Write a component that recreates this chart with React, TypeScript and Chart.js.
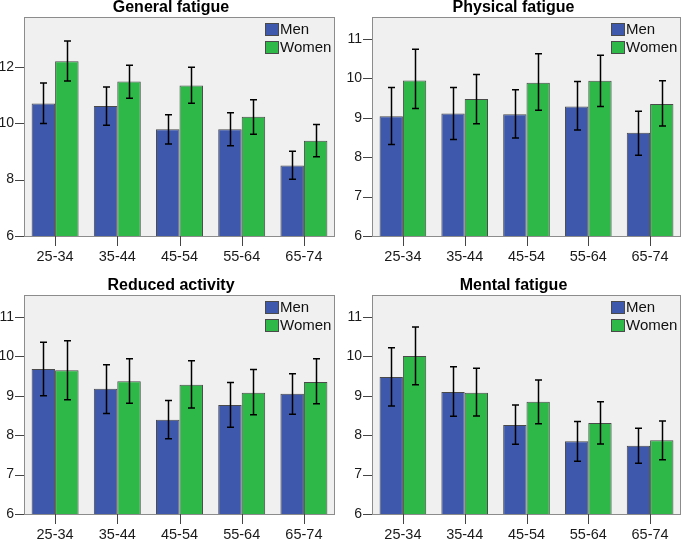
import React, { useEffect, useRef } from "react";
import { Chart, registerables } from "chart.js";

Chart.register(...registerables);

const ageGroups = ["25-34", "35-44", "45-54", "55-64", "65-74"];
const seriesNames = ["Men", "Women"];
const seriesColors = ["#3e58ac", "#2eb848"];

const generalTicks = [6, 8, 10, 12];
const scoreTicks = [6, 7, 8, 9, 10, 11];
const generalMax = 13.77;
const scoreMax = 11.56;
const axisMin = 6;

// General fatigue
const generalMen = [10.7, 10.61, 9.79, 9.79, 8.5];
const generalMenLow = [9.99, 9.93, 9.26, 9.2, 8.01];
const generalMenHigh = [11.43, 11.29, 10.3, 10.37, 9.01];
const generalWomen = [12.2, 11.48, 11.34, 10.23, 9.38];
const generalWomenLow = [11.5, 10.89, 10.71, 9.61, 8.81];
const generalWomenHigh = [12.92, 12.06, 11.99, 10.83, 9.96];

// Physical fatigue
const physicalMen = [9.04, 9.11, 9.09, 9.29, 8.62];
const physicalMenLow = [8.32, 8.45, 8.49, 8.69, 8.05];
const physicalMenHigh = [9.77, 9.77, 9.71, 9.92, 9.17];
const physicalWomen = [9.95, 9.48, 9.89, 9.94, 9.35];
const physicalWomenLow = [9.24, 8.85, 9.19, 9.29, 8.79];
const physicalWomenHigh = [10.74, 10.1, 10.63, 10.59, 9.94];

// Reduced activity
const reducedMen = [9.68, 9.18, 8.39, 8.77, 9.05];
const reducedMenLow = [9.0, 8.55, 7.91, 8.2, 8.53];
const reducedMenHigh = [10.36, 9.79, 8.88, 9.34, 9.56];
const reducedWomen = [9.65, 9.37, 9.28, 9.08, 9.35];
const reducedWomenLow = [8.9, 8.81, 8.69, 8.52, 8.8];
const reducedWomenHigh = [10.4, 9.94, 9.89, 9.67, 9.94];

// Mental fatigue
const mentalMen = [9.48, 9.1, 8.26, 7.85, 7.73];
const mentalMenLow = [8.74, 8.48, 7.77, 7.34, 7.29];
const mentalMenHigh = [10.22, 9.74, 8.77, 8.35, 8.18];
const mentalWomen = [10.01, 9.08, 8.85, 8.31, 7.87];
const mentalWomenLow = [9.28, 8.49, 8.29, 7.78, 7.38];
const mentalWomenHigh = [10.75, 9.7, 9.4, 8.85, 8.36];

const FONT = "'Liberation Sans', Arial, Helvetica, sans-serif";

type PanelProps = {
  title: string;
  men: number[];
  menLow: number[];
  menHigh: number[];
  women: number[];
  womenLow: number[];
  womenHigh: number[];
  ticks: number[];
  yMax: number;
  left: number;
  top: number;
  width: number;
  height: number;
  areaLeft: number;
  areaTop: number;
  areaBottom: number;
  areaRightPad: number;
};

function Panel(p: PanelProps) {
  const ref = useRef<HTMLCanvasElement | null>(null);
  useEffect(() => {
    if (!ref.current) return;
    const lows = [p.menLow, p.womenLow];
    const highs = [p.menHigh, p.womenHigh];

    const decor = {
      id: "decor" + p.title.replace(/\s/g, ""),
      beforeDraw(chart: any) {
        const { ctx, chartArea: a } = chart;
        ctx.save();
        ctx.fillStyle = "#f0f0f0";
        ctx.fillRect(a.left, a.top, a.right - a.left, a.bottom - a.top);
        ctx.restore();
      },
      beforeDatasetsDraw(chart: any) {
        const { ctx, chartArea: a } = chart;
        const ys = chart.scales.y;
        const xs = chart.scales.x;
        ctx.save();
        ctx.strokeStyle = "#8c8c8c";
        ctx.lineWidth = 1;
        ctx.strokeRect(a.left + 0.5, a.top + 0.5, a.right - a.left - 1, a.bottom - a.top);
        // y tick marks
        ctx.strokeStyle = "#444";
        ctx.beginPath();
        p.ticks.forEach((v) => {
          const y = Math.round(ys.getPixelForValue(v)) + 0.5;
          ctx.moveTo(a.left - 9, y);
          ctx.lineTo(a.left, y);
        });
        // x tick marks at category centres
        ageGroups.forEach((_, i) => {
          const x = Math.round(xs.getPixelForTick(i)) + 0.5;
          ctx.moveTo(x, a.bottom);
          ctx.lineTo(x, a.bottom + 10);
        });
        ctx.stroke();
        ctx.restore();
      },
      afterDatasetsDraw(chart: any) {
        const { ctx, chartArea: a } = chart;
        const ys = chart.scales.y;
        ctx.save();
        ctx.strokeStyle = "#000";
        ctx.lineWidth = 1.5;
        for (let d = 0; d < 2; d++) {
          const meta = chart.getDatasetMeta(d);
          meta.data.forEach((el: any, i: number) => {
            const x = Math.round(el.x) + 0.5;
            const yHi = ys.getPixelForValue(highs[d][i]);
            const yLo = ys.getPixelForValue(lows[d][i]);
            ctx.beginPath();
            ctx.moveTo(x, yHi);
            ctx.lineTo(x, yLo);
            ctx.moveTo(x - 3.5, yHi);
            ctx.lineTo(x + 3.5, yHi);
            ctx.moveTo(x - 3.5, yLo);
            ctx.lineTo(x + 3.5, yLo);
            ctx.stroke();
          });
        }
        // title
        ctx.fillStyle = "#000";
        ctx.font = `bold 16px ${FONT}`;
        ctx.textAlign = "center";
        ctx.textBaseline = "alphabetic";
        ctx.fillText(p.title, chart.width / 2, a.top - 5);
        // legend
        const lx = a.right - 70;
        const ly = a.top + 6;
        ctx.font = `15px ${FONT}`;
        ctx.textAlign = "left";
        ctx.textBaseline = "middle";
        for (let d = 0; d < 2; d++) {
          const y = ly + d * 18;
          ctx.fillStyle = seriesColors[d];
          ctx.fillRect(lx, y, 14, 13);
          ctx.strokeStyle = "#4a4a4a";
          ctx.lineWidth = 1;
          ctx.strokeRect(lx + 0.5, y + 0.5, 13, 12);
          ctx.fillStyle = "#111";
          ctx.fillText(seriesNames[d], lx + 15, y + 7);
        }
        ctx.restore();
      },
    };

    const chart = new Chart(ref.current, {
      type: "bar",
      data: {
        labels: ageGroups,
        datasets: [
          {
            label: seriesNames[0],
            data: p.men,
            backgroundColor: seriesColors[0],
            borderColor: "#4a4a4a",
            borderWidth: 1,
          },
          {
            label: seriesNames[1],
            data: p.women,
            backgroundColor: seriesColors[1],
            borderColor: "#4a4a4a",
            borderWidth: 1,
          },
        ],
      },
      options: {
        animation: false,
        responsive: false,
        events: [],
        layout: {
          padding: { top: p.areaTop, right: p.areaRightPad, left: 0, bottom: 0 },
        },
        datasets: {
          bar: { categoryPercentage: 0.755, barPercentage: 1.0 },
        },
        plugins: {
          legend: { display: false },
          tooltip: { enabled: false },
          title: { display: false },
        },
        scales: {
          x: {
            offset: true,
            grid: {
              offset: false,
              drawOnChartArea: false,
              drawTicks: true,
              tickLength: 10,
              color: "rgba(0,0,0,0)",
            },
            border: { display: false },
            ticks: {
              color: "#1a1a1a",
              font: { family: FONT, size: 14.5 },
              maxRotation: 0,
              autoSkip: false,
              padding: 2,
            },
            afterFit: (s: any) => {
              s.height = p.height - p.areaBottom;
            },
          },
          y: {
            min: axisMin,
            max: p.yMax,
            grid: {
              drawOnChartArea: false,
              drawTicks: true,
              tickLength: 9,
              color: "rgba(0,0,0,0)",
            },
            border: { display: false },
            ticks: {
              color: "#1a1a1a",
              font: { family: FONT, size: 14 },
              padding: 1,
              includeBounds: false,
            },
            afterBuildTicks: (s: any) => {
              s.ticks = p.ticks.map((v) => ({ value: v }));
            },
            afterFit: (s: any) => {
              s.width = p.areaLeft;
            },
          },
        },
      },
      plugins: [decor],
    } as any);
    return () => chart.destroy();
  }, []);

  return (
    <canvas
      ref={ref}
      width={p.width}
      height={p.height}
      style={{
        position: "absolute",
        left: p.left,
        top: p.top,
        width: p.width,
        height: p.height,
      }}
    />
  );
}

export default function App() {
  return (
    <div
      style={{
        position: "fixed",
        left: 0,
        top: 0,
        width: 685,
        height: 540,
        background: "#fff",
        overflow: "hidden",
      }}
    >
      <Panel
        title="General fatigue"
        men={generalMen}
        menLow={generalMenLow}
        menHigh={generalMenHigh}
        women={generalWomen}
        womenLow={generalWomenLow}
        womenHigh={generalWomenHigh}
        ticks={generalTicks}
        yMax={generalMax}
        left={0}
        top={0}
        width={342}
        height={270}
        areaLeft={24}
        areaTop={17}
        areaBottom={236}
        areaRightPad={7}
      />
      <Panel
        title="Physical fatigue"
        men={physicalMen}
        menLow={physicalMenLow}
        menHigh={physicalMenHigh}
        women={physicalWomen}
        womenLow={physicalWomenLow}
        womenHigh={physicalWomenHigh}
        ticks={scoreTicks}
        yMax={scoreMax}
        left={342}
        top={0}
        width={343}
        height={270}
        areaLeft={30}
        areaTop={17}
        areaBottom={236}
        areaRightPad={4}
      />
      <Panel
        title="Reduced activity"
        men={reducedMen}
        menLow={reducedMenLow}
        menHigh={reducedMenHigh}
        women={reducedWomen}
        womenLow={reducedWomenLow}
        womenHigh={reducedWomenHigh}
        ticks={scoreTicks}
        yMax={scoreMax}
        left={0}
        top={270}
        width={342}
        height={270}
        areaLeft={24}
        areaTop={25}
        areaBottom={244}
        areaRightPad={7}
      />
      <Panel
        title="Mental fatigue"
        men={mentalMen}
        menLow={mentalMenLow}
        menHigh={mentalMenHigh}
        women={mentalWomen}
        womenLow={mentalWomenLow}
        womenHigh={mentalWomenHigh}
        ticks={scoreTicks}
        yMax={scoreMax}
        left={342}
        top={270}
        width={343}
        height={270}
        areaLeft={30}
        areaTop={25}
        areaBottom={244}
        areaRightPad={4}
      />
    </div>
  );
}
